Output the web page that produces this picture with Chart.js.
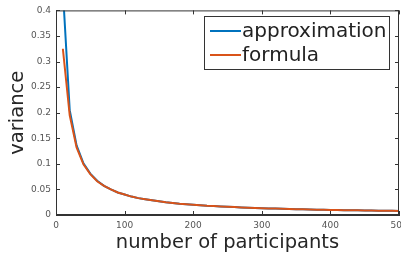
<!DOCTYPE html>
<html>
<head>
<meta charset="utf-8">
<script src="https://cdn.jsdelivr.net/npm/chart.js@4"></script>
<style>
	html, body { margin: 0; padding: 0; background: #fff; overflow: hidden; }
	#wrap { width: 401px; height: 262px; overflow: hidden; }
</style>
</head>
<body>
<div id="wrap"><canvas id="myChart" width="420" height="262"></canvas></div>
<script>
// values
const participants = [
	10, 20, 30, 40, 50, 60, 70, 80, 90, 100,
	110, 120, 130, 140, 150, 160, 170, 180, 190, 200,
	210, 220, 230, 240, 250, 260, 270, 280, 290, 300,
	310, 320, 330, 340, 350, 360, 370, 380, 390, 400,
	410, 420, 430, 440, 450, 460, 470, 480, 490, 500,
];
const approximation = [
	0.44, 0.205, 0.136, 0.101, 0.081, 0.067, 0.057, 0.05, 0.044, 0.04,
	0.036, 0.033, 0.031, 0.029, 0.027, 0.025, 0.0235, 0.022, 0.021, 0.02,
	0.019, 0.018, 0.0174, 0.0167, 0.016, 0.0154, 0.0148, 0.0143, 0.0138, 0.0133,
	0.0129, 0.0125, 0.0121, 0.0118, 0.0114, 0.0111, 0.0108, 0.0105, 0.0103, 0.01,
	0.0098, 0.0095, 0.0093, 0.0091, 0.0089, 0.0087, 0.0085, 0.0083, 0.0082, 0.008,
];
const formula = [
	0.325, 0.195, 0.132, 0.099, 0.08, 0.066, 0.057, 0.05, 0.044, 0.04,
	0.036, 0.033, 0.031, 0.029, 0.027, 0.025, 0.0235, 0.022, 0.021, 0.02,
	0.019, 0.018, 0.0174, 0.0167, 0.016, 0.0154, 0.0148, 0.0143, 0.0138, 0.0133,
	0.0129, 0.0125, 0.0121, 0.0118, 0.0114, 0.0111, 0.0108, 0.0105, 0.0103, 0.01,
	0.0098, 0.0095, 0.0093, 0.0091, 0.0089, 0.0087, 0.0085, 0.0083, 0.0082, 0.008,
];
const seriesNames = ["approximation", "formula"];
const xTicks = [0, 100, 200, 300, 400, 500];
const yTicks = [0, 0.05, 0.1, 0.15, 0.2, 0.25, 0.3, 0.35, 0.4];

const axisColor = "#333333";
const font = "DejaVu Sans";

function points(ys) {
	return participants.map((n, i) => ({ x: n, y: ys[i] }));
}

// matlab style box + inward ticks
const boxPlugin = {
	id: "box",
	afterDraw(chart) {
		const { ctx, chartArea: a, scales } = chart;
		ctx.save();
		ctx.strokeStyle = axisColor;
		ctx.lineWidth = 1;
		ctx.strokeRect(a.left + 0.5, a.top + 0.5, a.right - a.left - 1, a.bottom - a.top - 1);
		ctx.beginPath();
		xTicks.forEach((v) => {
			const px = Math.round(scales.x.getPixelForValue(v)) + 0.5;
			ctx.moveTo(px, a.bottom);
			ctx.lineTo(px, a.bottom - 4);
			ctx.moveTo(px, a.top);
			ctx.lineTo(px, a.top + 4);
		});
		yTicks.forEach((v) => {
			const py = Math.round(scales.y.getPixelForValue(v)) + 0.5;
			ctx.moveTo(a.left, py);
			ctx.lineTo(a.left + 4, py);
			ctx.moveTo(a.right, py);
			ctx.lineTo(a.right - 4, py);
		});
		ctx.stroke();

		// legend inside the axes
		const lx = 204, ly = 16, lw = 185, lh = 53;
		ctx.fillStyle = "#fff";
		ctx.fillRect(lx, ly, lw, lh);
		ctx.strokeRect(lx + 0.5, ly + 0.5, lw, lh);
		ctx.font = "20px '" + font + "'";
		ctx.textBaseline = "middle";
		chart.data.datasets.forEach((ds, i) => {
			const y = ly + 15 + i * 24;
			ctx.strokeStyle = ds.borderColor;
			ctx.lineWidth = 2;
			ctx.beginPath();
			ctx.moveTo(lx + 6, y);
			ctx.lineTo(lx + 37, y);
			ctx.stroke();
			ctx.fillStyle = "#222";
			ctx.fillText(ds.label, lx + 38, y + 1);
		});
		ctx.restore();
	},
};

const tickFmt = (v) => String(+Number(v).toFixed(2));

new Chart("myChart", {
	type: "line",
	data: {
		datasets: [
			{
				label: seriesNames[0],
				data: points(approximation),
				borderColor: "#0072BD",
				borderWidth: 2,
				pointRadius: 0,
				tension: 0,
				order: 1,
			},
			{
				label: seriesNames[1],
				data: points(formula),
				borderColor: "#D95319",
				borderWidth: 2,
				pointRadius: 0,
				tension: 0,
				order: 0,
			},
		],
	},
	options: {
		responsive: false,
		animation: false,
		layout: { padding: { top: 8, right: 21, left: 0, bottom: 0 } },
		plugins: { legend: { display: false }, tooltip: { enabled: false } },
		scales: {
			x: {
				type: "linear",
				min: 0,
				max: 500,
				afterBuildTicks: (s) => { s.ticks = xTicks.map((v) => ({ value: v })); },
				afterFit: (s) => { s.height = 47; },
				grid: { display: false, drawTicks: false, tickLength: 0 },
				border: { display: true, color: axisColor },
				ticks: { padding: 5, color: "#555555", callback: tickFmt, font: { family: font, size: 9 } },
				title: {
					display: true,
					text: "number of participants",
					color: "#262626",
					padding: { top: 0, bottom: 7 },
					font: { family: font, size: 19.5 },
				},
			},
			y: {
				type: "linear",
				min: 0,
				max: 0.4,
				afterBuildTicks: (s) => { s.ticks = yTicks.map((v) => ({ value: v })); },
				afterFit: (s) => { s.width = 56; },
				grid: { display: false, drawTicks: false, tickLength: 0 },
				border: { display: true, color: axisColor },
				ticks: { padding: 5, color: "#555555", callback: tickFmt, font: { family: font, size: 9 } },
				title: {
					display: true,
					text: "variance",
					color: "#262626",
					padding: { top: 6, bottom: 0 },
					font: { family: font, size: 19.5 },
				},
			},
		},
	},
	plugins: [boxPlugin],
});
</script>
</body>
</html>
